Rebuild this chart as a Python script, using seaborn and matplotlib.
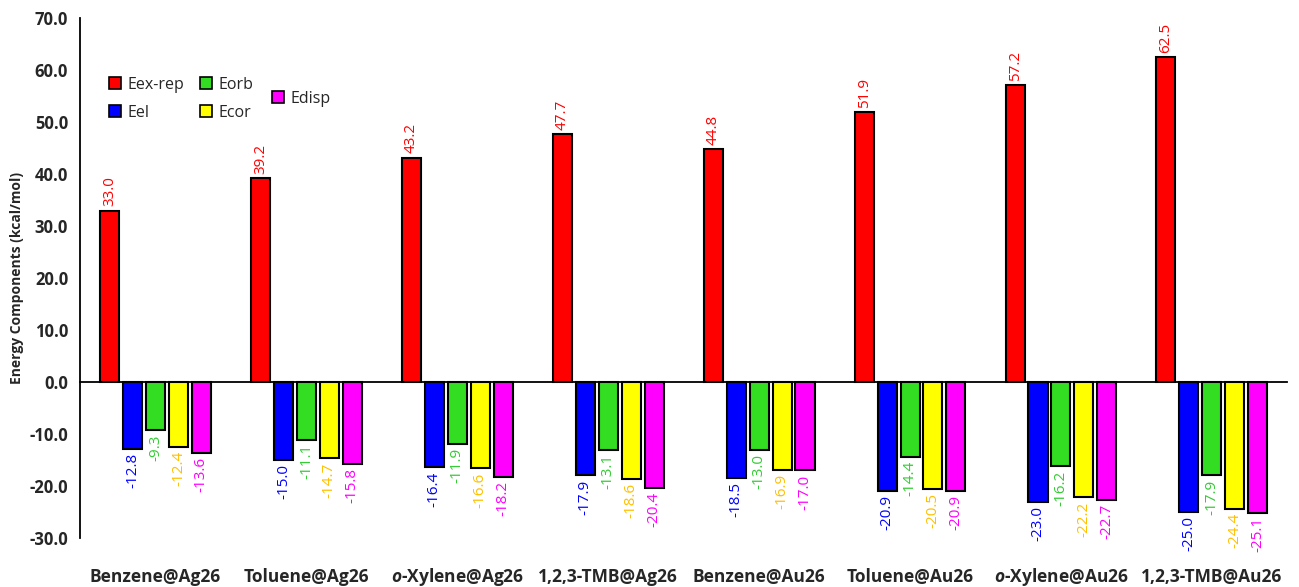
import matplotlib
matplotlib.use("Agg")
import matplotlib.pyplot as plt
import seaborn as sns
import pandas as pd
import numpy as np
from matplotlib.ticker import FormatStrFormatter, FixedLocator

categories = ["Benzene@Ag26", "Toluene@Ag26", r"$\mathit{o}$-Xylene@Ag26", "1,2,3-TMB@Ag26",
              "Benzene@Au26", "Toluene@Au26", r"$\mathit{o}$-Xylene@Au26", "1,2,3-TMB@Au26"]
components = ["Eex-rep", "Eel", "Eorb", "Ecor", "Edisp"]
eexrep = [33.0, 39.2, 43.2, 47.7, 44.8, 51.9, 57.2, 62.5]
eel = [-12.8, -15.0, -16.4, -17.9, -18.5, -20.9, -23.0, -25.0]
eorb = [-9.3, -11.1, -11.9, -13.1, -13.0, -14.4, -16.2, -17.9]
ecor = [-12.4, -14.7, -16.6, -18.6, -16.9, -20.5, -22.2, -24.4]
edisp = [-13.6, -15.8, -18.2, -20.4, -17.0, -20.9, -22.7, -25.1]

bar_colors = ["#FF0000", "#0000FF", "#33DD22", "#FFFF00", "#FF00FF"]
label_colors = ["#FF0000", "#0000FF", "#33CC33", "#FFC000", "#FF00FF"]

rows = []
for comp, vals in zip(components, [eexrep, eel, eorb, ecor, edisp]):
    for c, v in zip(categories, vals):
        rows.append({"System": c, "Component": comp, "Value": v})
df = pd.DataFrame(rows)

sns.set_theme(style="white")
plt.rcParams['font.family'] = ['Open Sans', 'DejaVu Sans']
plt.rcParams['mathtext.fontset'] = 'custom'
plt.rcParams['mathtext.it'] = 'Open Sans:italic:bold'
plt.rcParams['mathtext.rm'] = 'Open Sans:bold'

fig = plt.figure(figsize=(12.99, 5.87), dpi=100)
ax = fig.add_axes([0.0616, 0.0835, 0.9294, 0.8855])

sns.barplot(data=df, x="System", y="Value", hue="Component", hue_order=components,
            order=categories, palette=bar_colors, width=0.76, gap=0.17, edgecolor="black",
            linewidth=1.5, ax=ax, saturation=1, errorbar=None)

for cont, col in zip(ax.containers, label_colors):
    ax.bar_label(cont, fmt="%.1f", rotation=90, color=col, fontsize=11, padding=3)

ax.set_ylim(-30, 70)
ax.set_yticks(np.arange(-30, 71, 10))
ax.yaxis.set_major_formatter(FormatStrFormatter("%.1f"))
ax.set_xlim(-0.5, len(categories) - 0.5)
ax.set_ylabel("Energy Components (kcal/mol)", fontsize=10, fontweight="bold")
ax.set_xlabel("")

for s in ["top", "right"]:
    ax.spines[s].set_visible(False)
ax.spines["bottom"].set_position(("data", 0))
for s in ["left", "bottom"]:
    ax.spines[s].set_linewidth(1.3)
    ax.spines[s].set_color("black")

ax.tick_params(axis="y", direction="out", length=5, width=1.3, color="black", labelsize=12)
for t in ax.get_yticklabels():
    t.set_fontweight("bold")
ax.xaxis.set_minor_locator(FixedLocator(np.arange(-0.5, len(categories), 1.0)))
ax.tick_params(axis="x", which="major", length=0, pad=144, labelsize=12.5)
ax.tick_params(axis="x", which="minor", direction="inout", length=10, width=1.3, color="black")
for t in ax.get_xticklabels():
    t.set_fontweight("bold")
    t.set_verticalalignment("baseline")

handles, labels = ax.get_legend_handles_labels()
ax.get_legend().remove()
for h in handles:
    h.set_edgecolor("black")
    h.set_linewidth(1.2)
leg1 = ax.legend(handles[:4], labels[:4], ncol=2, loc="upper left", bbox_to_anchor=(0.012, 0.915),
                 frameon=False, fontsize=11.5, handlelength=0.75, handleheight=0.75,
                 columnspacing=1.0, handletextpad=0.4, labelspacing=0.75)
ax.add_artist(leg1)
ax.legend(handles[4:], labels[4:], loc="upper left", bbox_to_anchor=(0.147, 0.888),
          frameon=False, fontsize=11.5, handlelength=0.75, handleheight=0.75,
          handletextpad=0.4)

fig.savefig("out.png", dpi=100)
